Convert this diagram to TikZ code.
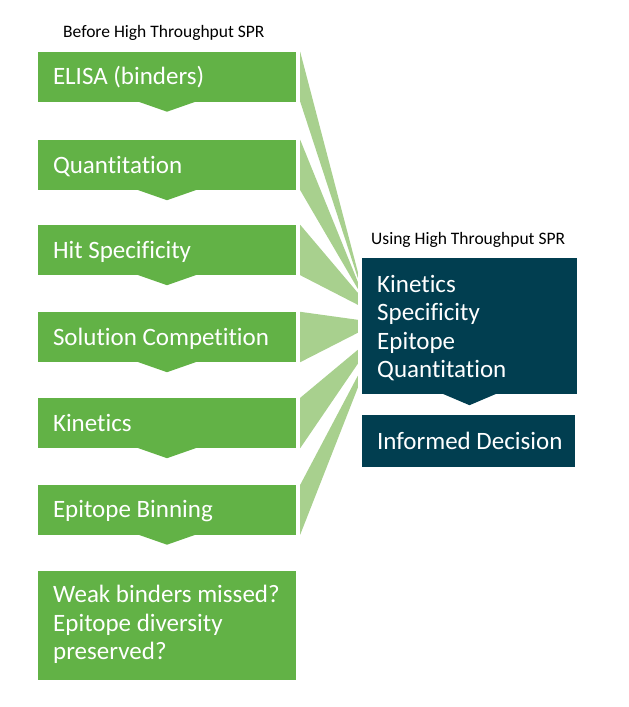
\documentclass[tikz,border=0pt]{standalone}
\usepackage{fontspec}
\setmainfont{Carlito}[RawFeature={-liga}]
\usetikzlibrary{calc}
\definecolor{gr}{RGB}{98,178,70}
\definecolor{lg}{RGB}{168,208,142}
\definecolor{dk}{RGB}{1,62,80}
\tikzset{
  gbox/.style={fill=gr, draw=none, minimum width=258pt, inner sep=0pt},
  dbox/.style={fill=dk, draw=none, inner sep=0pt},
  btxt/.style={text=white, font=\fontsize{25}{28.5}\selectfont, inner sep=0pt, align=left},
  ltxt/.style={text=black, font=\fontsize{17.5}{20}\selectfont, inner sep=0pt},
  wedge/.style={fill=lg, draw=none},
  pointer/.style={draw=none}
}
\begin{document}
\begin{tikzpicture}[x=1pt,y=-1pt]
\useasboundingbox (0,0) rectangle (629,707);
% left column boxes
\node[gbox, minimum height=49.5pt] (b1) at (167,76.75) {};
\node[gbox, minimum height=50pt] (b2) at (167,165) {};
\node[gbox, minimum height=50pt] (b3) at (167,250) {};
\node[gbox, minimum height=50pt] (b4) at (167,337) {};
\node[gbox, minimum height=50pt] (b5) at (167,423) {};
\node[gbox, minimum height=49.5pt] (b6) at (167,509.75) {};
\node[gbox, minimum height=109pt] (b7) at (167,625.5) {};
% pointers
\foreach \b in {b1,b2,b3,b4,b5,b6}{
  \fill[gr] ($(\b.south)+(-30,-0.5)$) -- ++(60,0) -- ($(\b.south)+(0,10)$) -- cycle;
}
% texts
\node[ltxt, anchor=base west] (lb) at (63,37) {Before High Throughput SPR};
\node[btxt, anchor=base west] (t1) at ($(b1.west)+(15,8)$) {ELISA (binders)};
\node[btxt, anchor=base west] (t2) at ($(b2.west)+(15,8)$) {Quantitation};
\node[btxt, anchor=base west] (t3) at ($(b3.west)+(15,8)$) {Hit Specificity};
\node[btxt, anchor=base west] (t4) at ($(b4.west)+(15,8)$) {Solution Competition};
\node[btxt, anchor=base west] (t5) at ($(b5.west)+(15,8)$) {Kinetics};
\node[btxt, anchor=base west] (t6) at ($(b6.west)+(15,8)$) {Epitope Binning};
\node[btxt, anchor=north west] (t7) at (53,585) {Weak binders missed?\\Epitope diversity\\preserved?};
% right column
\node[ltxt, anchor=base west] (lu) at (371,244) {Using High Throughput SPR};
\node[dbox, minimum width=215pt, minimum height=136pt] (k) at (469.5,326) {};
\node[dbox, minimum width=213pt, minimum height=52pt] (d) at (468.5,441) {};
\fill[dk] ($(k.south)+(-27,-0.5)$) -- ++(54,0) -- ($(k.south)+(0,11)$) -- cycle;
\node[btxt, anchor=north west] (kt) at (377,275) {Kinetics\\Specificity\\Epitope\\Quantitation};
\node[btxt, anchor=base west] (dt) at ($(d.west)+(15,8)$) {Informed Decision};
% wedges
\fill[wedge] ($(b1.north east)+(4,0)$) -- ($(b1.south east)+(4,0)$) -- ($(k.north west)+(-4,20)$) -- ($(k.north west)+(-4,14)$) -- cycle;
\fill[wedge] ($(b2.north east)+(4,0)$) -- ($(b2.south east)+(4,0)$) -- ($(k.north west)+(-4,31)$) -- ($(k.north west)+(-4,24)$) -- cycle;
\fill[wedge] ($(b3.north east)+(4,0)$) -- ($(b3.south east)+(4,0)$) -- ($(k.north west)+(-4,47)$) -- ($(k.north west)+(-4,35)$) -- cycle;
\fill[wedge] ($(b4.north east)+(4,0)$) -- ($(b4.south east)+(4,0)$) -- ($(k.north west)+(-4,75)$) -- ($(k.north west)+(-4,62)$) -- cycle;
\fill[wedge] ($(b5.north east)+(4,0)$) -- ($(b5.south east)+(4,0)$) -- ($(k.north west)+(-4,106)$) -- ($(k.north west)+(-4,92)$) -- cycle;
\fill[wedge] ($(b6.north east)+(4,0)$) -- ($(b6.south east)+(4,0)$) -- ($(k.north west)+(-4,130)$) -- ($(k.north west)+(-4,118)$) -- cycle;
\end{tikzpicture}
\end{document}
